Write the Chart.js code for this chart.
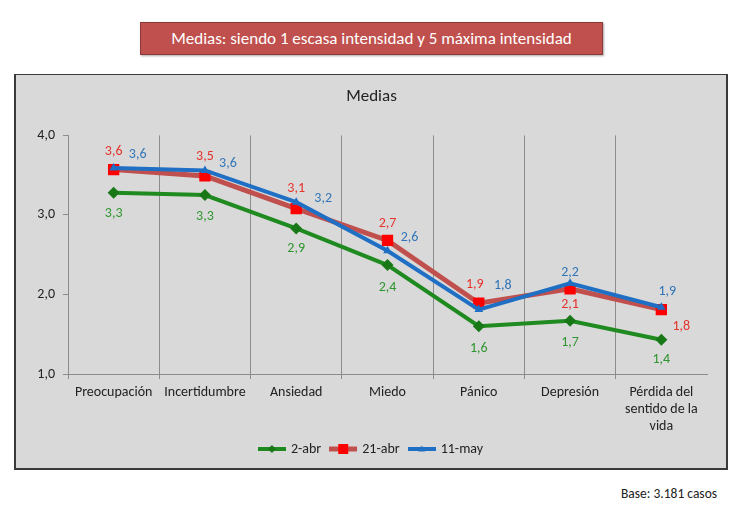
<!DOCTYPE html>
<html><head><meta charset="utf-8">
<script src="https://cdn.jsdelivr.net/npm/chart.js@4.4.0/dist/chart.umd.min.js"></script>
<style>
html,body{margin:0;padding:0;background:#fff;width:750px;height:509px;overflow:hidden;font-family:Carlito,Lato,'Open Sans',sans-serif;}
#hdr{position:absolute;left:140px;top:22px;width:463px;height:33px;box-sizing:border-box;background:#c0504d;border:1px solid #8a3a38;color:#fff;font-size:17px;line-height:31px;text-align:center;box-shadow:1px 1px 2px rgba(0,0,0,0.35);}
#box{position:absolute;left:14px;top:74px;width:714px;height:396px;box-sizing:border-box;border:2px solid #3a3a3a;border-top-width:1px;background:#d9d9d9;}
#box canvas{position:absolute;left:0;top:0;}
#base{position:absolute;left:621px;top:485px;font-size:13.5px;color:#222;}
</style></head><body>
<div id="hdr">Medias: siendo 1 escasa intensidad y 5 máxima intensidad</div>
<div id="box"><canvas id="c" width="709" height="400"></canvas></div>
<div id="base">Base: 3.181 casos</div>
<script>
// ---- data ----
const categories = ['Preocupación','Incertidumbre','Ansiedad','Miedo','Pánico','Depresión',['Pérdida del','sentido de la','vida']];
const seriesNames = ['2-abr','21-abr','11-may'];
const abr2  = [3.28,3.25,2.83,2.37,1.60,1.67,1.43];
const abr21 = [3.57,3.49,3.08,2.68,1.89,2.07,1.81];
const may11 = [3.59,3.56,3.16,2.55,1.81,2.14,1.84];
const abr2Labels  = ['3,3','3,3','2,9','2,4','1,6','1,7','1,4'];
const abr21Labels = ['3,6','3,5','3,1','2,7','1,9','2,1','1,8'];
const may11Labels = ['3,6','3,6','3,2','2,6','1,8','2,2','1,9'];
const yTicks = [1,2,3,4];

// ---- styling ----
const FONT = "Carlito, Lato, 'Open Sans', sans-serif";
const lineColors = ['#1f8a1f','#c0504d','#1f6fc4'];
const markerColors = ['#187818','#ff0000','#1f6fc4'];
const labelColors = ['#2e962e','#e4322b','#2f74b8'];
const markerStyles = ['rectRot','rect','triangle'];
const markerRadii = [6,8,5];
const lineWidths = [4,5,4];
const allLabels = [abr2Labels, abr21Labels, may11Labels];
const labelOffsets = [
  [[0,21],[0,21],[0,20],[0,22],[0,22],[0,22],[0,20]],
  [[0,-18],[0,-19],[0,-20],[0,-17],[-4,-19],[0,16],[20,17]],
  [[24,-14],[23,-7],[27,-4],[22,-13],[24,-24],[0,-11],[6,-16]]
];

function legendIcon(i){
  const c = document.createElement('canvas');
  c.width = 28; c.height = 14;
  const g = c.getContext('2d');
  g.strokeStyle = lineColors[i]; g.lineWidth = lineWidths[i];
  g.beginPath(); g.moveTo(0,7); g.lineTo(28,7); g.stroke();
  g.fillStyle = markerColors[i];
  g.beginPath();
  if (i===0){ g.moveTo(14,3); g.lineTo(18,7); g.lineTo(14,11); g.lineTo(10,7); g.closePath(); }
  else if (i===1){ g.rect(9,2,10,10); }
  else { g.moveTo(14,3.5); g.lineTo(17.5,9.5); g.lineTo(10.5,9.5); g.closePath(); }
  g.fill();
  return c;
}

const dataLabelPlugin = {
  id:'dataLabels',
  afterDatasetsDraw(chart){
    const ctx = chart.ctx;
    ctx.save();
    ctx.font = '14px ' + FONT;
    ctx.textAlign = 'center'; ctx.textBaseline = 'middle';
    chart.data.datasets.forEach((ds,i)=>{
      const meta = chart.getDatasetMeta(i);
      meta.data.forEach((pt,j)=>{
        const o = labelOffsets[i][j];
        ctx.fillStyle = labelColors[i];
        ctx.fillText(allLabels[i][j], pt.x + o[0], pt.y + o[1]);
      });
    });
    ctx.restore();
  }
};

const seriesData = [abr2, abr21, may11];
const datasets = seriesData.map((d,i)=>({
  label: seriesNames[i],
  data: d,
  borderColor: lineColors[i],
  backgroundColor: markerColors[i],
  pointBackgroundColor: markerColors[i],
  pointBorderColor: markerColors[i],
  pointBorderWidth: 0,
  pointStyle: markerStyles[i],
  pointRadius: markerRadii[i],
  borderWidth: lineWidths[i],
  tension: 0,
  fill: false,
  order: 3 - i
}));

new Chart(document.getElementById('c'), {
  type:'line',
  data:{ labels: categories, datasets },
  plugins:[dataLabelPlugin],
  options:{
    responsive:false,
    animation:false,
    layout:{ padding:{ left:20, right:18, top:0, bottom:9 } },
    plugins:{
      title:{ display:true, text:'Medias', color:'#222', font:{ family:FONT, size:17, weight:'normal' }, padding:{ top:12, bottom:28 } },
      legend:{
        position:'bottom',
        labels:{
          usePointStyle:true, pointStyleWidth:24, padding:10, color:'#222',
          font:{ family:FONT, size:14 },
          generateLabels: chart => chart.data.datasets.map((ds,i)=>({
            text: ds.label, pointStyle: legendIcon(i), fillStyle: markerColors[i],
            strokeStyle: lineColors[i], lineWidth:0, hidden:false, datasetIndex:i, fontColor:'#222'
          }))
        }
      },
      tooltip:{ enabled:false }
    },
    scales:{
      x:{
        offset:true,
        grid:{ offset:true, color: c => c.type==='tick' ? '#8c8c8c' : 'rgba(0,0,0,0)', lineWidth:1, tickLength:5 },
        border:{ color:'#8c8c8c' },
        ticks:{ color:'#222', font:{ family:FONT, size:14, lineHeight:1.2 }, padding:5, maxRotation:0, autoSkip:false },
        afterFit: s => { s.height = 58; }
      },
      y:{
        min:1, max:4,
        afterBuildTicks: s => { s.ticks = yTicks.map(v=>({value:v})); },
        ticks:{ color:'#222', font:{ family:FONT, size:14 }, padding:8, callback: v => Number(v).toFixed(1).replace('.',',') },
        grid:{ drawOnChartArea:false, tickLength:5, color:'#8c8c8c' },
        border:{ color:'#8c8c8c' },
        afterFit: s => { s.width = 32; }
      }
    }
  }
});
</script>
</body></html>
